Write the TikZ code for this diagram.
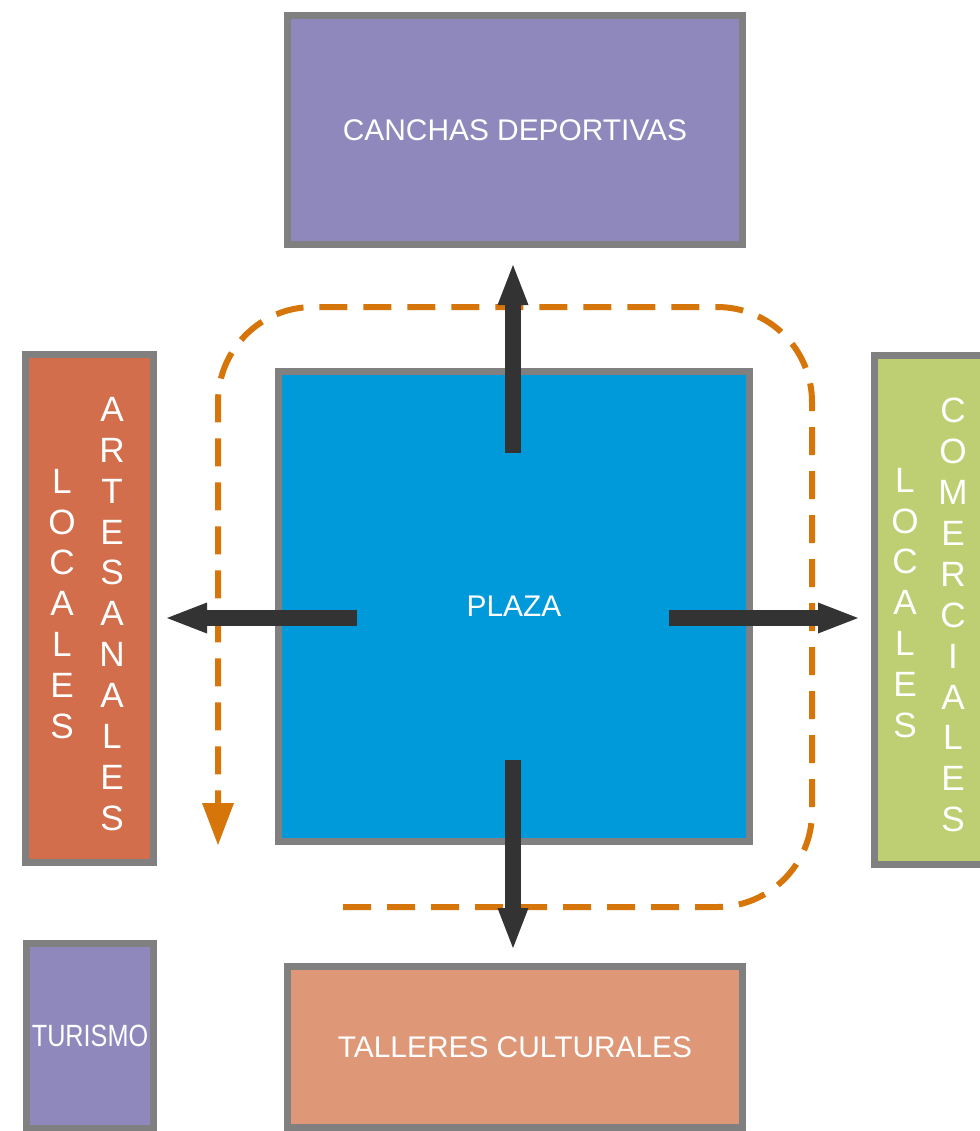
\documentclass[tikz,border=0pt]{standalone}
\usepackage{fontspec}
\setmainfont{Liberation Sans}
\newfontfamily\narrowsans[FakeStretch=0.82]{Liberation Sans}
\usetikzlibrary{arrows.meta,positioning}
\definecolor{boxgray}{RGB}{128,128,128}
\definecolor{zonepurple}{RGB}{142,136,188}
\definecolor{plazablue}{RGB}{0,153,218}
\definecolor{artesred}{RGB}{210,110,75}
\definecolor{comergreen}{RGB}{190,206,115}
\definecolor{tallersalmon}{RGB}{222,152,120}
\definecolor{routeorange}{RGB}{214,118,10}
\definecolor{arrowdark}{RGB}{51,51,51}

\begin{document}
\begin{tikzpicture}[
  zone/.style={draw=boxgray, line width=0.14cm, inner sep=0pt, text=white, font=\fontsize{17}{20}\selectfont},
  vtext/.style={text=white, align=center, inner sep=0pt, font=\fontsize{20}{23.3}\selectfont},
  arr/.style={draw=arrowdark, line width=0.32cm, -{Triangle[width=0.62cm,length=0.8cm,line width=0pt]}},
  route/.style={draw=routeorange, line width=0.12cm, dash pattern=on 0.56cm off 0.32cm, rounded corners=1.9cm, -{Triangle[width=0.64cm,length=0.84cm,line width=0pt]}}
]
\useasboundingbox (0,0) rectangle (19.6,-22.62);

% Zones
\node[zone, fill=zonepurple, minimum width=9.1cm, minimum height=4.58cm] (canchas) at (10.3,-2.6) {CANCHAS DEPORTIVAS};
\node[zone, fill=plazablue, minimum width=9.42cm, minimum height=9.4cm] (plaza) at (10.28,-12.13) {PLAZA};
\node[zone, fill=artesred, minimum width=2.56cm, minimum height=10.16cm] (artesanales) at (1.79,-12.17) {};
\node[zone, fill=comergreen, minimum width=2.56cm, minimum height=10.18cm] (comerciales) at (18.77,-12.2) {};
\node[zone, fill=zonepurple, minimum width=2.54cm, minimum height=3.71cm, font=\narrowsans\fontsize{17.5}{20}\selectfont] (turismo) at (1.8,-20.72) {TURISMO};
\node[zone, fill=tallersalmon, minimum width=9.1cm, minimum height=3.23cm] (talleres) at (10.3,-20.94) {TALLERES CULTURALES};

% Vertical labels
\node[vtext] (locA) at (1.24,-12.08) {L\\O\\C\\A\\L\\E\\S};
\node[vtext] (artes) at (2.24,-12.28) {A\\R\\T\\E\\S\\A\\N\\A\\L\\E\\S};
\node[vtext] (locC) at (18.1,-12.06) {L\\O\\C\\A\\L\\E\\S};
\node[vtext] (comer) at (19.06,-12.3) {C\\O\\M\\E\\R\\C\\I\\A\\L\\E\\S};

% Route around the plaza
\coordinate (routeA) at (6.86,-18.14);
\coordinate (routeB) at (4.36,-16.9);
\draw[route] (routeA) -| (16.24,-6.14) -| (routeB);

% Arrows out of the plaza
\coordinate (upA) at (10.26,-9.06);
\coordinate (upB) at (10.26,-5.3);
\coordinate (downA) at (10.26,-15.2);
\coordinate (downB) at (10.26,-18.96);
\coordinate (leftA) at (7.14,-12.36);
\coordinate (leftB) at (3.34,-12.36);
\coordinate (rightA) at (13.38,-12.36);
\coordinate (rightB) at (17.16,-12.36);
\draw[arr] (upA) -- (upB);
\draw[arr] (downA) -- (downB);
\draw[arr] (leftA) -- (leftB);
\draw[arr] (rightA) -- (rightB);
\end{tikzpicture}
\end{document}
